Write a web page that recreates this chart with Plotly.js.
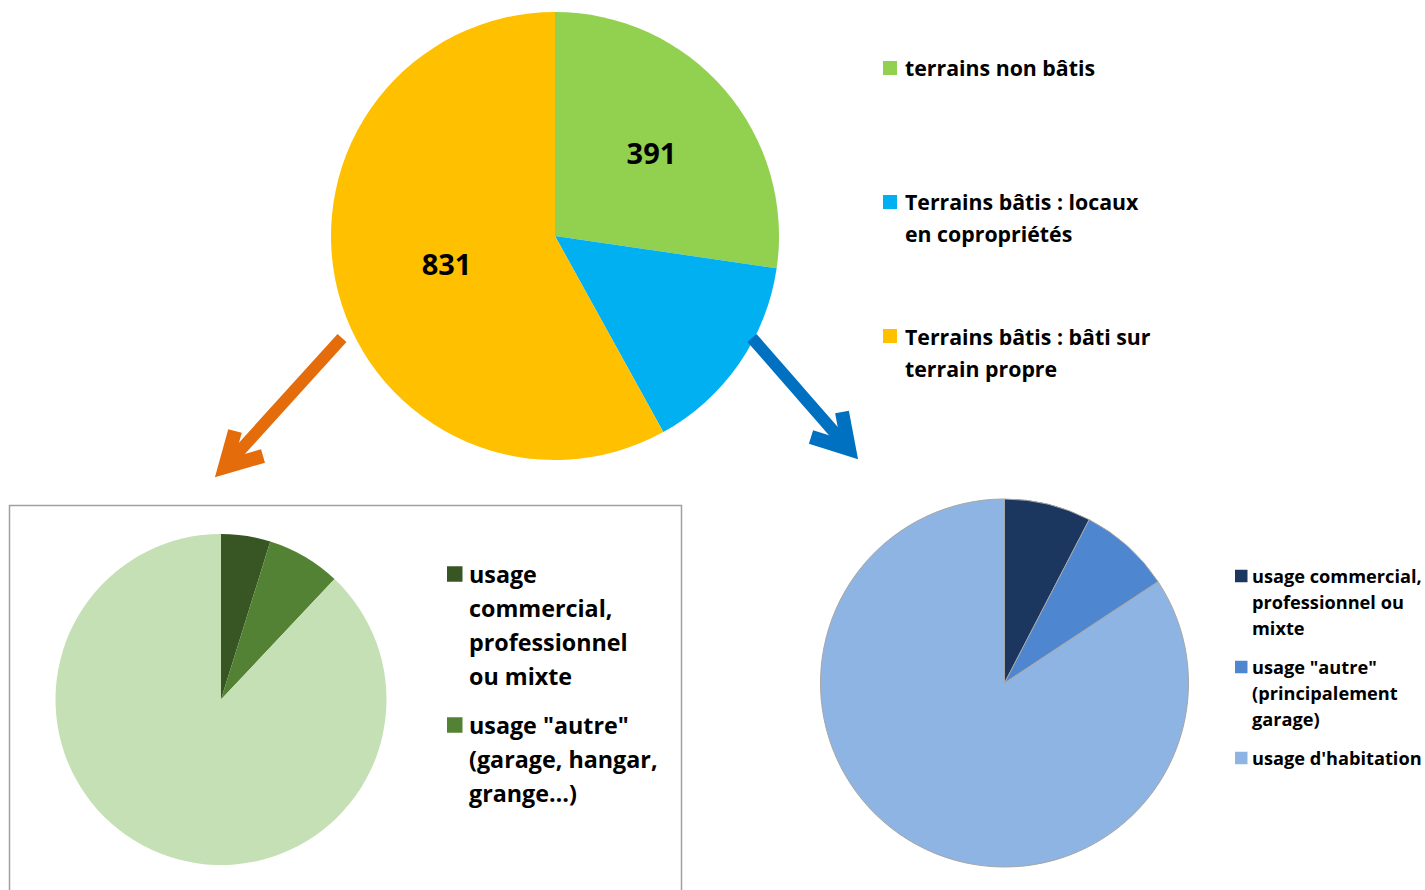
<!DOCTYPE html>
<html>
<head>
<meta charset="utf-8">
<script src="https://cdn.plot.ly/plotly-3.0.1.min.js"></script>
<style>html,body{margin:0;padding:0;background:#fff;}#chart{width:1425px;height:890px;}</style>
</head>
<body>
<div id="chart"></div>
<script>
// ---- data ----
const mainCategories = ["terrains non bâtis", "Terrains bâtis : locaux<br>en copropriétés", "Terrains bâtis : bâti sur<br>terrain propre"];
const mainValues = [391, 210, 831];
const mainShowValue = [true, false, true];
const mainColors = ["#92D050", "#00B0F0", "#FFC000"];

const ownCategories = ["usage<br>commercial,<br>professionnel<br>ou mixte", "usage \"autre\"<br>(garage, hangar,<br>grange…)", "usage d'habitation"];
const ownValues = [40, 60, 731];
const ownInLegend = [true, true, false];
const ownColors = ["#375623", "#548235", "#C5E0B4"];

const coproCategories = ["usage commercial,<br>professionnel ou<br>mixte", "usage \"autre\"<br>(principalement<br>garage)", "usage d'habitation"];
const coproValues = [16, 17, 177];
const coproInLegend = [true, true, true];
const coproColors = ["#1B365F", "#4F86D0", "#8EB4E3"];

// ---- helpers (layout only) ----
const W = 1425, H = 890;
const px = x => x / W;
const py = y => 1 - y / H;
const FONT = "'Open Sans', Lato, sans-serif";

const traces = [
  {
    type: "pie", labels: mainCategories, values: mainValues,
    sort: false, direction: "clockwise", rotation: 0,
    marker: { colors: mainColors, line: { width: 0 } },
    texttemplate: mainValues.map((v, i) => mainShowValue[i] ? "%{value}" : ""),
    textposition: "inside", insidetextorientation: "horizontal",
    textfont: { family: FONT, size: 29, color: "#000", weight: "bold" },
    domain: { x: [px(331), px(779)], y: [py(460), py(12)] },
    showlegend: false, hoverinfo: "label+value"
  },
  {
    type: "pie", labels: ownCategories, values: ownValues,
    sort: false, direction: "clockwise", rotation: 0,
    marker: { colors: ownColors, line: { width: 0 } },
    textinfo: "none",
    domain: { x: [px(55), px(387)], y: [py(865), py(534)] },
    showlegend: false, hoverinfo: "label+value"
  },
  {
    type: "pie", labels: coproCategories, values: coproValues,
    sort: false, direction: "clockwise", rotation: 0,
    marker: { colors: coproColors, line: { width: 1, color: "#A6A6A6" } },
    textinfo: "none",
    domain: { x: [px(820), px(1189)], y: [py(867), py(499)] },
    showlegend: false, hoverinfo: "label+value"
  }
];

// ---- legends drawn as shapes + annotations, built from the category arrays ----
const shapes = [];
const annotations = [];
function buildLegend(cats, colors, include, opt) {
  let y = opt.y0;
  cats.forEach((c, i) => {
    if (!include[i]) return;
    const lines = c.split("<br>");
    shapes.push({ type: "rect", xref: "paper", yref: "paper",
      x0: px(opt.mx), x1: px(opt.mx + opt.ms), y0: py(y + opt.ms / 2 + opt.mdy), y1: py(y - opt.ms / 2 + opt.mdy),
      fillcolor: colors[i], line: { width: 0 } });
    lines.forEach((ln, k) => {
      annotations.push({ xref: "paper", yref: "paper", x: px(opt.tx), y: py(y + k * opt.lh),
        xanchor: "left", yanchor: "middle", showarrow: false, text: ln,
        font: { family: FONT, size: opt.size, color: "#000", weight: "bold" } });
    });
    y += opt.itemStep != null ? opt.itemStep : (lines.length * opt.lh + opt.gap);
  });
}
buildLegend(mainCategories, mainColors, [true, true, true],
  { y0: 68, lh: 32, itemStep: 134, mx: 883, ms: 14, mdy: 0, tx: 903, size: 21.3 });
buildLegend(ownCategories, ownColors, ownInLegend,
  { y0: 574, lh: 34, gap: 15, mx: 447, ms: 15.5, mdy: 0, tx: 467, size: 23.3 });
buildLegend(coproCategories, coproColors, coproInLegend,
  { y0: 576, lh: 26, gap: 13, mx: 1235, ms: 12.5, mdy: 0, tx: 1250, size: 18.2 });

function arrow(tail, tip, arm1, arm2, color) {
  return [
    { type: "path", xref: "paper", yref: "paper",
      path: `M ${px(tail[0])} ${py(tail[1])} L ${px(tip[0])} ${py(tip[1])}`,
      line: { color: color, width: 12 } },
    { type: "path", xref: "paper", yref: "paper",
      path: `M ${px(arm1[0])} ${py(arm1[1])} L ${px(tip[0])} ${py(tip[1])} L ${px(arm2[0])} ${py(arm2[1])}`,
      line: { color: color, width: 14 } }
  ];
}

shapes.push({ type: "rect", xref: "paper", yref: "paper", x0: px(9.5), x1: px(681.5), y0: py(900), y1: py(505.5),
  line: { color: "#A0A0A0", width: 1.5 }, fillcolor: "rgba(0,0,0,0)", layer: "below" });
shapes.push(...arrow([342, 338], [225, 467], [235, 431], [263, 456], "#E46C0A"));
shapes.push(...arrow([752, 338], [849, 449], [842, 412], [811, 437], "#0070C0"));

const layout = {
  width: W, height: H,
  margin: { l: 0, r: 0, t: 0, b: 0 },
  paper_bgcolor: "#fff",
  showlegend: false,
  shapes: shapes,
  annotations: annotations
};

Plotly.newPlot("chart", traces, layout, { displayModeBar: false, staticPlot: true });
</script>
</body>
</html>
